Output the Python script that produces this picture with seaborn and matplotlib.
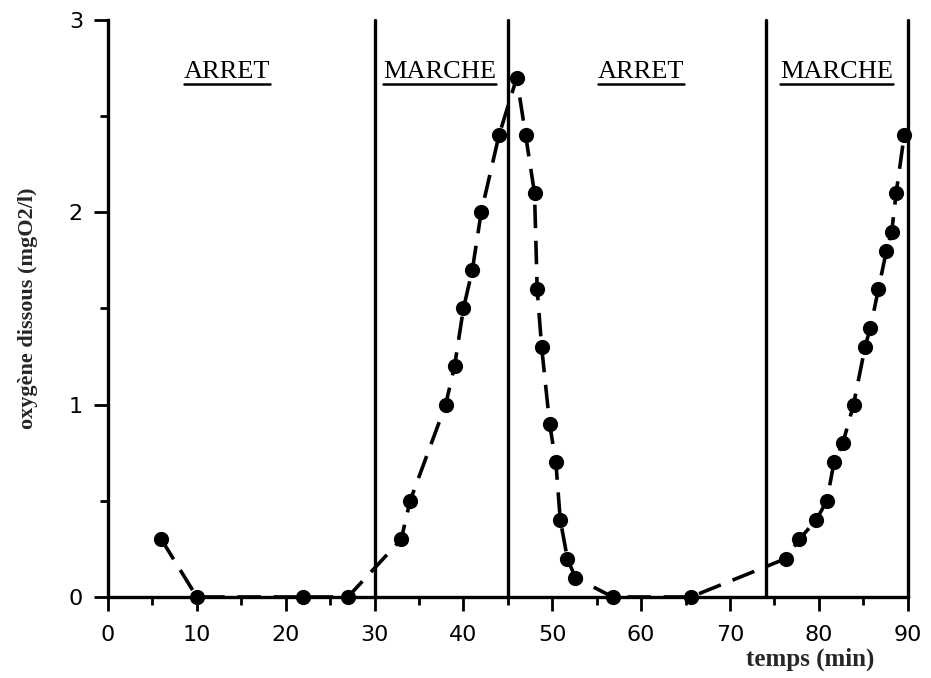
import seaborn as sns
import matplotlib.pyplot as plt
import matplotlib.ticker as mticker
from matplotlib.lines import Line2D

# temps (min) et oxygène dissous (mgO2/l)
temps = [6, 10, 22, 27, 33, 34, 38, 39, 40, 41, 42, 44, 46,
         47, 48, 48.3, 48.8, 49.7, 50.4, 50.9, 51.7, 52.6, 56.8, 65.6,
         76.3, 77.8, 79.7, 80.9, 81.7, 82.7, 83.9, 85.2, 85.8, 86.7,
         87.6, 88.2, 88.7, 89.6]
oxygene = [0.3, 0, 0, 0, 0.3, 0.5, 1.0, 1.2, 1.5, 1.7, 2.0, 2.4, 2.7,
           2.4, 2.1, 1.6, 1.3, 0.9, 0.7, 0.4, 0.2, 0.1, 0, 0,
           0.2, 0.3, 0.4, 0.5, 0.7, 0.8, 1.0, 1.3, 1.4, 1.6,
           1.8, 1.9, 2.1, 2.4]

limites = [30, 45, 74, 90]
phases = ["ARRET", "MARCHE", "ARRET", "MARCHE"]
pos_phases = [13.4, 37.3, 60.0, 82.0]

sns.set_style("ticks")
plt.rcParams["font.family"] = ["DejaVu Sans"]

fig = plt.figure(figsize=(9.31, 6.78), dpi=100)
ax = fig.add_axes([0.116, 0.1195, 0.859, 0.851])

sns.lineplot(x=temps, y=oxygene, ax=ax, color="black", linewidth=2.6,
             linestyle=(0, (6.5, 3.5)), sort=False, estimator=None)
sns.scatterplot(x=temps, y=oxygene, ax=ax, color="black", s=120,
                edgecolor="black", linewidth=0, zorder=5, clip_on=False)

for xl in limites:
    ax.axvline(xl, ymin=0, ymax=1, color="black", linewidth=2.4,
               clip_on=False)

ax.set_xlim(0, 90)
ax.set_ylim(0, 3)
ax.xaxis.set_major_locator(mticker.MultipleLocator(10))
ax.xaxis.set_minor_locator(mticker.MultipleLocator(5))
ax.yaxis.set_major_locator(mticker.MultipleLocator(1))
ax.yaxis.set_minor_locator(mticker.MultipleLocator(0.5))
ax.tick_params(which="major", length=10, width=2, labelsize=16,
               color="black", labelcolor="black")
ax.tick_params(axis="x", which="major", pad=10)
ax.tick_params(axis="y", which="major", pad=8)
ax.tick_params(which="minor", length=6, width=2, color="black")

for side in ["top", "right"]:
    ax.spines[side].set_visible(False)
for side in ["left", "bottom"]:
    ax.spines[side].set_linewidth(2.4)
    ax.spines[side].set_color("black")

serif = ["Liberation Serif", "DejaVu Serif"]
ax.set_ylabel("oxygène dissous (mgO2/l)", family=serif, fontweight="bold",
              fontsize=16)
ax.yaxis.set_label_coords(-0.087, 0.5)
ax.set_xlabel("temps (min)", family=serif, fontweight="bold", fontsize=18)
ax.xaxis.set_label_coords(0.958, -0.088)
ax.xaxis.label.set_ha("right")

textes = []
for px, nom in zip(pos_phases, phases):
    t = ax.text(px, 2.73, nom, family=serif, fontsize=19, ha="center",
                va="center", color="black")
    textes.append(t)

# soulignement des titres de phase
fig.canvas.draw()
renderer = fig.canvas.get_renderer()
inv = ax.transAxes.inverted()
for t in textes:
    bb = t.get_window_extent(renderer)
    (x0, y0), (x1, y1) = inv.transform([(bb.x0, bb.y0), (bb.x1, bb.y1)])
    ax.add_line(Line2D([x0, x1], [y0 - 0.002, y0 - 0.002],
                       transform=ax.transAxes, color="black", linewidth=1.8))

fig.savefig("out.png", dpi=100)
